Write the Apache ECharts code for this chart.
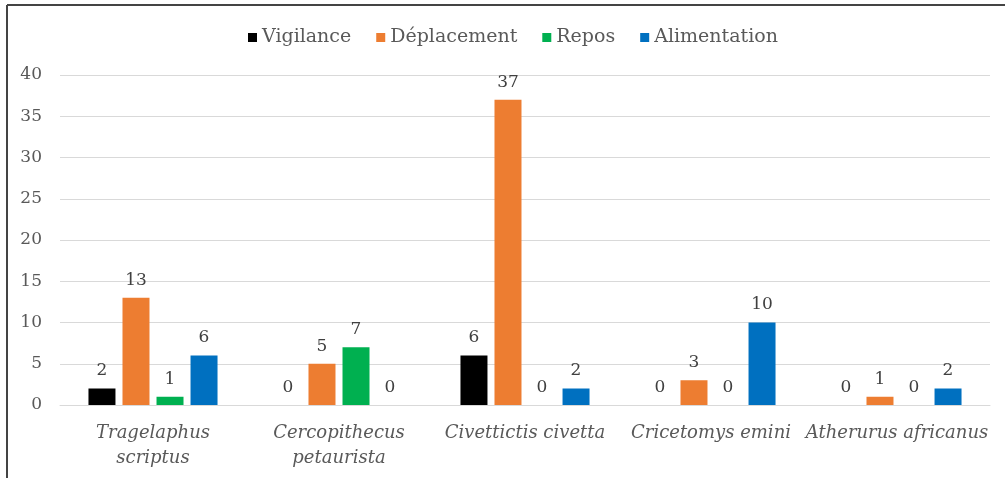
<!DOCTYPE html>
<html><head><meta charset="utf-8">
<script src="https://cdn.jsdelivr.net/npm/echarts@6/dist/echarts.min.js"></script>
<style>html,body{margin:0;padding:0;background:#fff}#c{width:1005px;height:478px}</style>
</head><body><div id="c"></div>
<script>
const categories = ["Tragelaphus\nscriptus", "Cercopithecus\npetaurista", "Civettictis civetta", "Cricetomys emini", "Atherurus africanus"];
const seriesNames = ["Vigilance", "Déplacement", "Repos", "Alimentation"];
const vigilance = [2, 0, 6, 0, 0];
const deplacement = [13, 5, 37, 3, 1];
const repos = [1, 7, 0, 0, 0];
const alimentation = [6, 0, 2, 10, 2];
const colors = ["#000000", "#ED7D31", "#00B050", "#0070C0"];
const yTicks = [0, 5, 10, 15, 20, 25, 30, 35, 40];

const font = "DejaVu Serif";
const values = [vigilance, deplacement, repos, alimentation];
const chart = echarts.init(document.getElementById('c'));
chart.setOption({
  animation: false,
  textStyle: { fontFamily: font },
  color: colors,
  legend: {
    top: 23, left: 243,
    itemWidth: 9, itemHeight: 9, itemGap: 25,
    icon: 'rect',
    textStyle: { fontFamily: font, fontSize: 19, color: '#595959' },
    data: seriesNames
  },
  grid: { left: 60, right: 15, top: 75, bottom: 73 },
  xAxis: {
    type: 'category', data: categories,
    axisTick: { show: false },
    axisLine: { lineStyle: { color: '#d9d9d9', width: 1 } },
    axisLabel: { fontFamily: font, fontStyle: 'italic', fontSize: 18, color: '#595959', margin: 16, lineHeight: 25, interval: 0 }
  },
  yAxis: {
    type: 'value', min: yTicks[0], max: yTicks[yTicks.length - 1], interval: 5,
    axisLine: { show: false }, axisTick: { show: false },
    splitLine: { lineStyle: { color: '#d9d9d9', width: 1 } },
    axisLabel: { fontFamily: font, fontSize: 17, color: '#595959', margin: 18 }
  },
  graphic: [
    { type: 'line', shape: { x1: 7, y1: 5, x2: 1005, y2: 5 }, style: { stroke: '#444', lineWidth: 2 } },
    { type: 'line', shape: { x1: 7, y1: 5, x2: 7, y2: 478 }, style: { stroke: '#444', lineWidth: 2 } }
  ],
  series: seriesNames.map((n, i) => ({
    name: n, type: 'bar', data: values[i],
    barWidth: 27, barGap: '26%',
    itemStyle: { color: colors[i] },
    label: { show: true, position: 'top', distance: 9, fontFamily: font, fontSize: 17, color: '#404040' }
  }))
});
</script></body></html>
